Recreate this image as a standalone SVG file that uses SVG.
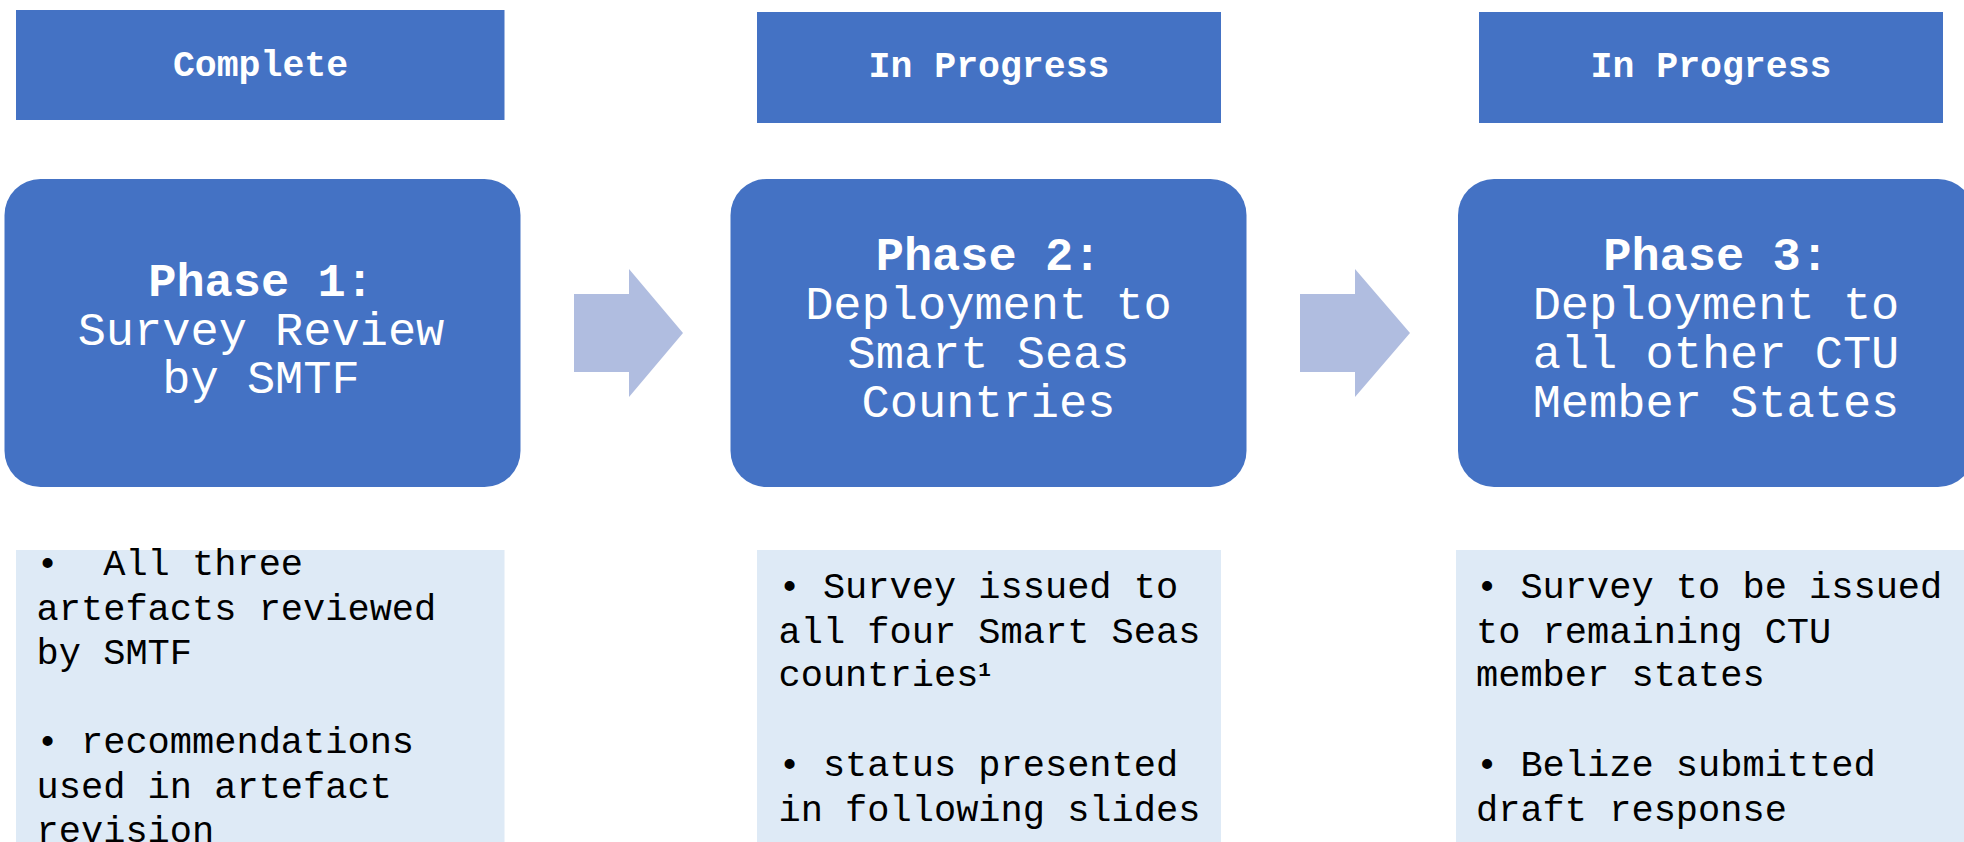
<svg xmlns="http://www.w3.org/2000/svg" width="1964" height="842" viewBox="0 0 1964 842">
<style>
.status{fill:#4472C4}
.phase{fill:#4472C4}
.detail{fill:#DEEAF6}
.arrow{fill:#B0BDE0}
.stxt{font-family:"Courier New","Nimbus Mono PS","Nimbus Mono L","FreeMono","Liberation Mono",monospace;font-size:36.5px;font-weight:bold;fill:#FFFFFF;text-anchor:middle}
.ptxt{font-family:"Courier New","Nimbus Mono PS","Nimbus Mono L","FreeMono","Liberation Mono",monospace;font-size:47px;fill:#FFFFFF;text-anchor:middle}
.pb{font-weight:bold}
.dtxt{font-family:"Courier New","Nimbus Mono PS","Nimbus Mono L","FreeMono","Liberation Mono",monospace;font-size:37px;fill:#000000}
.sup{font-size:21px;font-weight:bold}
</style>
<rect width="1964" height="842" fill="#FFFFFF"/>
<g id="connectors">
<polygon class="arrow" points="574,294 629,294 629,269 683,333 629,397 629,372 574,372"/>
<polygon class="arrow" points="1300,294 1355,294 1355,269 1410,333 1355,397 1355,372 1300,372"/>
</g>
<g id="status1">
<rect class="status" x="16" y="10" width="488.5" height="110"/>
<text class="stxt" x="260.5" y="76">Complete</text>
</g>
<g id="status2">
<rect class="status" x="757" y="12" width="464" height="111"/>
<text class="stxt" x="989" y="77">In Progress</text>
</g>
<g id="status3">
<rect class="status" x="1479" y="12" width="464" height="111"/>
<text class="stxt" x="1711" y="77">In Progress</text>
</g>
<g id="phase1">
<rect class="phase" x="4.5" y="179" width="516" height="308" rx="36" ry="36"/>
<text class="ptxt" x="261" y="296"><tspan class="pb">Phase 1:</tspan></text>
<text class="ptxt" x="261" y="345">Survey Review</text>
<text class="ptxt" x="261" y="393">by SMTF</text>
</g>
<g id="phase2">
<rect class="phase" x="730.5" y="179" width="516" height="308" rx="36" ry="36"/>
<text class="ptxt" x="988.5" y="270"><tspan class="pb">Phase 2:</tspan></text>
<text class="ptxt" x="988.5" y="319">Deployment to</text>
<text class="ptxt" x="988.5" y="368">Smart Seas</text>
<text class="ptxt" x="988.5" y="417">Countries</text>
</g>
<g id="phase3">
<rect class="phase" x="1458" y="179" width="516" height="308" rx="36" ry="36"/>
<text class="ptxt" x="1716" y="270"><tspan class="pb">Phase 3:</tspan></text>
<text class="ptxt" x="1716" y="319">Deployment to</text>
<text class="ptxt" x="1716" y="368">all other CTU</text>
<text class="ptxt" x="1716" y="417">Member States</text>
</g>
<g id="detail1">
<rect class="detail" x="16" y="550" width="488.5" height="300"/>
<text class="dtxt" x="36.6" y="575" xml:space="preserve">•  All three</text>
<text class="dtxt" x="36.6" y="619.5">artefacts reviewed</text>
<text class="dtxt" x="36.6" y="664">by SMTF</text>
<text class="dtxt" x="36.6" y="753">• recommendations</text>
<text class="dtxt" x="36.6" y="797.5">used in artefact</text>
<text class="dtxt" x="36.6" y="842">revision</text>
</g>
<g id="detail2">
<rect class="detail" x="757" y="550" width="464" height="300"/>
<text class="dtxt" x="778.5" y="598">• Survey issued to</text>
<text class="dtxt" x="778.5" y="642.5">all four Smart Seas</text>
<text class="dtxt" x="778.5" y="686">countries<tspan class="sup" dy="-10">1</tspan></text>
<text class="dtxt" x="778.5" y="776">• status presented</text>
<text class="dtxt" x="778.5" y="820.5">in following slides</text>
</g>
<g id="detail3">
<rect class="detail" x="1456" y="550" width="520" height="300"/>
<text class="dtxt" x="1476" y="598">• Survey to be issued</text>
<text class="dtxt" x="1476" y="642.5">to remaining CTU</text>
<text class="dtxt" x="1476" y="686">member states</text>
<text class="dtxt" x="1476" y="776">• Belize submitted</text>
<text class="dtxt" x="1476" y="820.5">draft response</text>
</g>
</svg>
